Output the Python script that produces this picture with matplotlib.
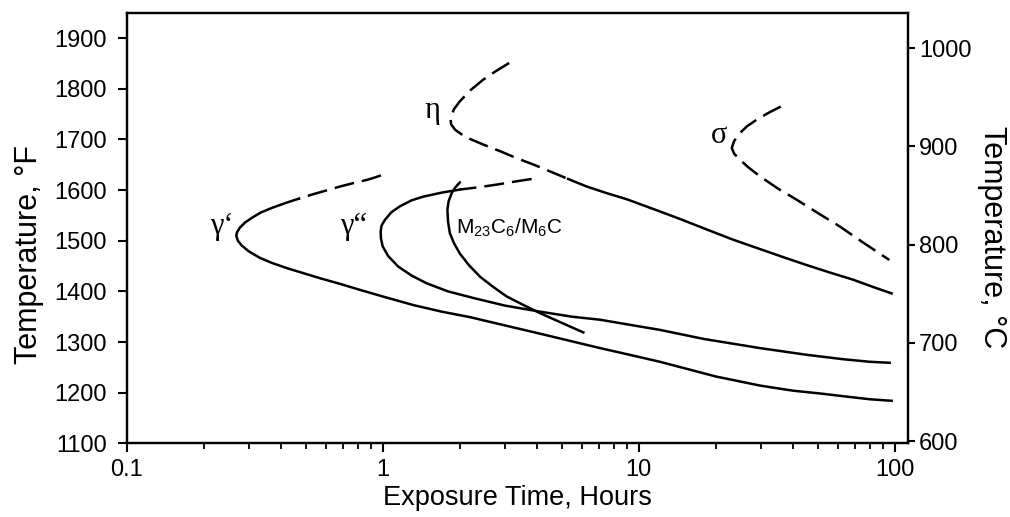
import matplotlib
matplotlib.use('Agg')
import matplotlib.pyplot as plt

plt.rcParams['font.family'] = ['Liberation Sans', 'DejaVu Sans']
plt.rcParams['mathtext.default'] = 'regular'

# exposure time (h) and temperature (F), read along each curve from its upper end
gp_time = [0.985, 0.92, 0.866, 0.77, 0.681, 0.6, 0.536, 0.47, 0.42, 0.37, 0.335,
           0.31, 0.29, 0.277, 0.27, 0.268, 0.272, 0.281, 0.3, 0.332, 0.37, 0.422,
           0.49, 0.569, 0.68, 0.815, 1.0, 1.317, 1.7, 2.2, 3.05, 4.0, 4.93, 7.07,
           9.0, 12.1, 20, 29.8, 40, 52, 63, 80, 97.3]
gp_temp = [1629, 1624, 1620, 1614, 1607, 1599, 1592, 1583, 1575, 1565, 1556,
           1546, 1536, 1526, 1517, 1510, 1500, 1491, 1479, 1466, 1456, 1446,
           1436, 1426, 1415, 1403, 1390, 1373, 1360, 1349, 1332, 1318, 1307, 1288,
           1276, 1261, 1232, 1214, 1204, 1198, 1193, 1187, 1184]

gpp_time = [3.82, 3.3, 2.8, 2.4, 2.0, 1.7, 1.44, 1.3, 1.168, 1.08, 1.02, 0.99,
            0.982, 0.985, 1.0, 1.05, 1.15, 1.3, 1.485, 1.8, 2.26, 3.0, 4.12, 5.5,
            7.07, 9.5, 12.1, 18, 29.8, 45, 63, 80, 95.6]
gpp_temp = [1622, 1617, 1611, 1606, 1601, 1595, 1587, 1580, 1568, 1556, 1541, 1530,
            1518, 1504, 1489, 1470, 1449, 1431, 1416, 1400, 1387, 1372, 1360, 1350,
            1344, 1333, 1324, 1306, 1288, 1275, 1266, 1261, 1259]

carb_time = [2.0, 1.92, 1.86, 1.81, 1.79, 1.8, 1.83, 1.9, 2.0, 2.17, 2.4, 2.7,
             3.05, 3.55, 4.12, 5.0, 6.08]
carb_temp = [1615, 1605, 1594, 1578, 1561, 1538, 1515, 1495, 1475, 1452, 1429, 1409,
             1390, 1373, 1357, 1338, 1319]

eta_time = [3.12, 2.75, 2.47, 2.2, 2.0, 1.9, 1.84, 1.85, 1.92, 2.1, 2.47, 2.9,
            3.34, 3.9, 4.5, 5.3, 6.27, 7.5, 8.98, 11.5, 14.5, 18.5, 23.4, 30, 37,
            45.3, 56, 68.9, 82, 97.3]
eta_temp = [1851, 1834, 1818, 1797, 1775, 1760, 1742, 1730, 1719, 1705, 1690, 1676,
            1663, 1650, 1637, 1622, 1607, 1594, 1582, 1562, 1543, 1522, 1502, 1483, 1467,
            1452, 1437, 1423, 1409, 1396]

sig_time = [35.9, 32, 28.9, 26.5, 24.9, 23.6, 23.1, 23.6, 24.5, 26.8, 29.8, 35,
            41.4, 50, 61.1, 75, 95.3]
sig_temp = [1765, 1752, 1739, 1726, 1713, 1697, 1683, 1672, 1663, 1645, 1627, 1603,
            1581, 1555, 1528, 1497, 1462]

f_ticks = [1100, 1200, 1300, 1400, 1500, 1600, 1700, 1800, 1900]
c_ticks = [600, 700, 800, 900, 1000]

fig = plt.figure(figsize=(10.1, 5.17), dpi=100)
ax = fig.add_axes([0.1254, 0.1425, 0.7736, 0.8317])

lw = 1.8
dash = (8, 3.2)

def draw(t, T, n_dash):
    # first n_dash points dashed, the rest solid
    if n_dash > 0:
        ax.plot(t[:n_dash + 1], T[:n_dash + 1], color='black', lw=lw, dashes=dash)
    if n_dash < len(t) - 1:
        ax.plot(t[n_dash:], T[n_dash:], color='black', lw=lw)

draw(gp_time, gp_temp, 7)
draw(gpp_time, gpp_temp, 4)
draw(carb_time, carb_temp, 0)
draw(eta_time, eta_temp, 15)
draw(sig_time, sig_temp, len(sig_time) - 1)

ax.set_xscale('log')
ax.set_xlim(0.1, 112.7)
ax.set_ylim(1100, 1949)
ax.set_xticks([0.1, 1, 10, 100])
ax.set_xticklabels(['0.1', '1', '10', '100'])
ax.set_yticks(f_ticks)

for s in ax.spines.values():
    s.set_linewidth(1.6)

ax.tick_params(axis='both', which='major', direction='out', length=6.5, width=1.5,
               labelsize=17, colors='black')
ax.tick_params(axis='x', which='minor', direction='out', length=4.5, width=1.3)
ax.tick_params(axis='x', which='major', pad=5)
ax.tick_params(axis='y', which='major', pad=8)

ax.set_xlabel('Exposure Time, Hours', fontsize=19.5, labelpad=3)
ax.set_ylabel('Temperature, °F', fontsize=22)
ax.yaxis.set_label_coords(-0.106, 0.44)

ax2 = ax.twinx()
ax2.set_ylim(597.7, 1035.6)
ax2.set_yticks(c_ticks)
ax2.tick_params(axis='y', direction='out', length=5, width=1.5, labelsize=17, pad=3)
for s in ax2.spines.values():
    s.set_linewidth(1.6)
ax2.set_ylabel('Temperature, °C', fontsize=22, rotation=270, va='bottom')
ax2.yaxis.set_label_coords(1.088, 0.48)

serif = ['Liberation Serif', 'DejaVu Serif']
ax.text(0.236, 1528, 'γ‘', fontsize=22, family=serif, ha='center', va='center')
ax.text(0.77, 1528, 'γ“', fontsize=22, family=serif, ha='center', va='center')
ax.text(1.57, 1758, 'η', fontsize=22, family=serif, ha='center', va='center')
ax.text(20.6, 1708, 'σ', fontsize=22, family=serif, ha='center', va='center')
ax.text(1.93, 1525, 'M$_{23}$C$_6$/M$_6$C', fontsize=15, ha='left', va='center')

fig.savefig('out.png', dpi=100)
